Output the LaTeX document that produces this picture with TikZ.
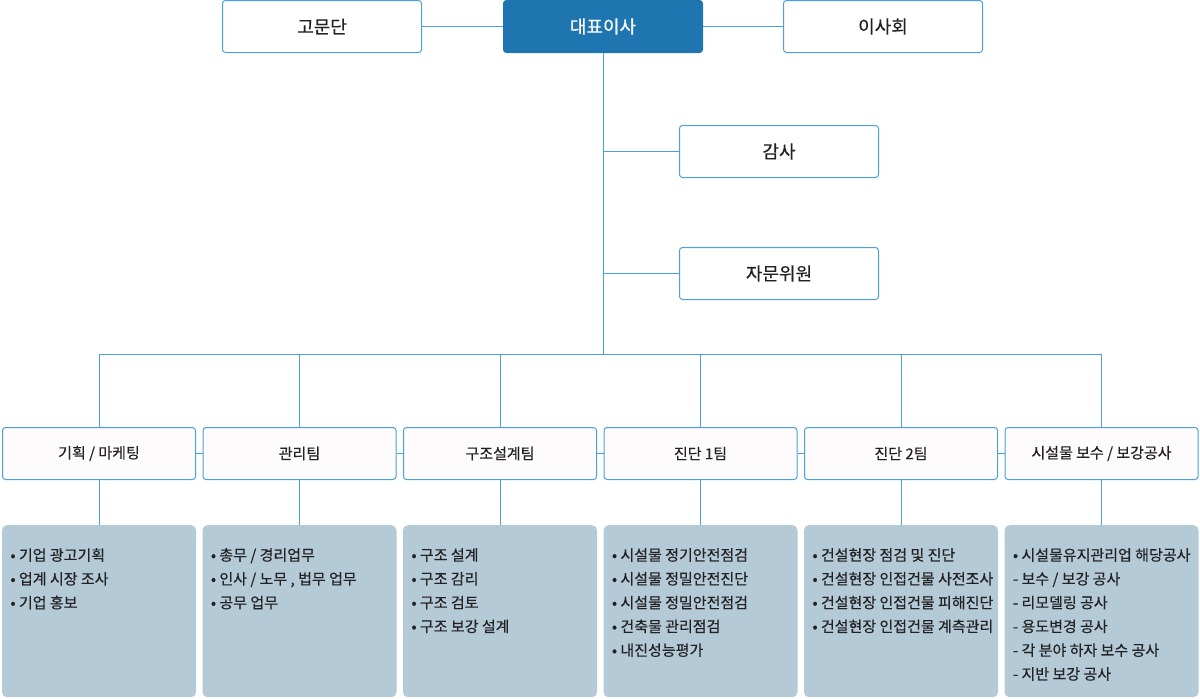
\documentclass[tikz,border=0pt]{standalone}
\usepackage{fontspec}
\setmainfont{Noto Sans CJK KR}[FakeBold=0.35]
\usepackage{xcolor}
\usepackage{tikz}
\usetikzlibrary{positioning}
\definecolor{Line}{RGB}{74,161,221}
\definecolor{Chief}{RGB}{30,117,176}
\definecolor{Paper}{RGB}{253,251,252}
\definecolor{Slate}{RGB}{181,202,215}
\definecolor{Ink}{RGB}{34,34,34}
\tikzset{
  topbox/.style={draw=Line,line width=1pt,rounded corners=3pt,fill=white,minimum width=199pt,minimum height=52pt,text=Ink,font=\fontsize{18}{21}\selectfont},
  ceobox/.style={topbox,draw=Chief,fill=Chief,text=white},
  teambox/.style={topbox,fill=Paper,minimum width=193pt,font=\fontsize{15}{18}\selectfont},
  taskbox/.style={rounded corners=5pt,fill=Slate,minimum width=194pt,minimum height=172pt,inner sep=0pt},
  tasktext/.style={anchor=north west,inner sep=0pt,align=left,text=Ink,font=\fontsize{15}{23.8}\selectfont},
  link/.style={draw=Line,line width=1pt}
}
\begin{document}
\begin{tikzpicture}[x=1pt,y=-1pt,node distance=45pt]
\useasboundingbox (0,0) rectangle (1200,699);
\node[ceobox] (ceo) at (603,26.5) {대표이사};
\node[topbox] (advisors) at (322,26.5) {고문단};
\node[topbox] (board) at (883,26.5) {이사회};
\node[topbox] (audit) at (779,151.5) {감사};
\node[topbox] (consult) at (779,273.5) {자문위원};
\coordinate (bus) at (603,354);
% teams
\node[teambox] (planning) at (99,453.5) {기획 / 마케팅};
\node[teambox] (admin) at (299.5,453.5) {관리팀};
\node[teambox] (design) at (500,453.5) {구조설계팀};
\node[teambox] (diagone) at (700.5,453.5) {진단 1팀};
\node[teambox] (diagtwo) at (901,453.5) {진단 2팀};
\node[teambox] (repair) at (1101.5,453.5) {시설물 보수 / 보강공사};
% task lists
\node[taskbox,below=of planning] (planninglist) {};
\node[taskbox,below=of admin] (adminlist) {};
\node[taskbox,below=of design] (designlist) {};
\node[taskbox,below=of diagone] (diagonelist) {};
\node[taskbox,below=of diagtwo] (diagtwolist) {};
\node[taskbox,below=of repair] (repairlist) {};
\node[tasktext] at ([xshift=8.5pt,yshift=-23pt]planninglist.north west) {• 기업 광고기획\\• 업계 시장 조사\\• 기업 홍보};
\node[tasktext] at ([xshift=8.5pt,yshift=-23pt]adminlist.north west) {• 총무 / 경리업무\\• 인사 / 노무 , 법무 업무\\• 공무 업무};
\node[tasktext] at ([xshift=8.5pt,yshift=-23pt]designlist.north west) {• 구조 설계\\• 구조 감리\\• 구조 검토\\• 구조 보강 설계};
\node[tasktext] at ([xshift=8.5pt,yshift=-23pt]diagonelist.north west) {• 시설물 정기안전점검\\• 시설물 정밀안전진단\\• 시설물 정밀안전점검\\• 건축물 관리점검\\• 내진성능평가};
\node[tasktext] at ([xshift=8.5pt,yshift=-23pt]diagtwolist.north west) {• 건설현장 점검 및 진단\\• 건설현장 인접건물 사전조사\\• 건설현장 인접건물 피해진단\\• 건설현장 인접건물 계측관리};
\node[tasktext] at ([xshift=8.5pt,yshift=-23pt]repairlist.north west) {• 시설물유지관리업 해당공사\\- 보수 / 보강 공사\\- 리모델링 공사\\- 용도변경 공사\\- 각 분야 하자 보수 공사\\- 지반 보강 공사};
% connectors
\draw[link] (advisors.east) -- (ceo.west);
\draw[link] (ceo.east) -- (board.west);
\draw[link] (ceo.south) -- (bus);
\draw[link] (ceo.south |- audit.west) -- (audit.west);
\draw[link] (ceo.south |- consult.west) -- (consult.west);
\draw[link] (planning.north |- bus) -- (repair.north |- bus);
\draw[link] (planning.north |- bus) -- (planning.north);
\draw[link] (admin.north |- bus) -- (admin.north);
\draw[link] (design.north |- bus) -- (design.north);
\draw[link] (diagone.north |- bus) -- (diagone.north);
\draw[link] (diagtwo.north |- bus) -- (diagtwo.north);
\draw[link] (repair.north |- bus) -- (repair.north);
\draw[link] (planning.east) -- (admin.west);
\draw[link] (admin.east) -- (design.west);
\draw[link] (design.east) -- (diagone.west);
\draw[link] (diagone.east) -- (diagtwo.west);
\draw[link] (diagtwo.east) -- (repair.west);
\draw[link] (planning.south) -- (planninglist.north);
\draw[link] (admin.south) -- (adminlist.north);
\draw[link] (design.south) -- (designlist.north);
\draw[link] (diagone.south) -- (diagonelist.north);
\draw[link] (diagtwo.south) -- (diagtwolist.north);
\draw[link] (repair.south) -- (repairlist.north);
\end{tikzpicture}
\end{document}
